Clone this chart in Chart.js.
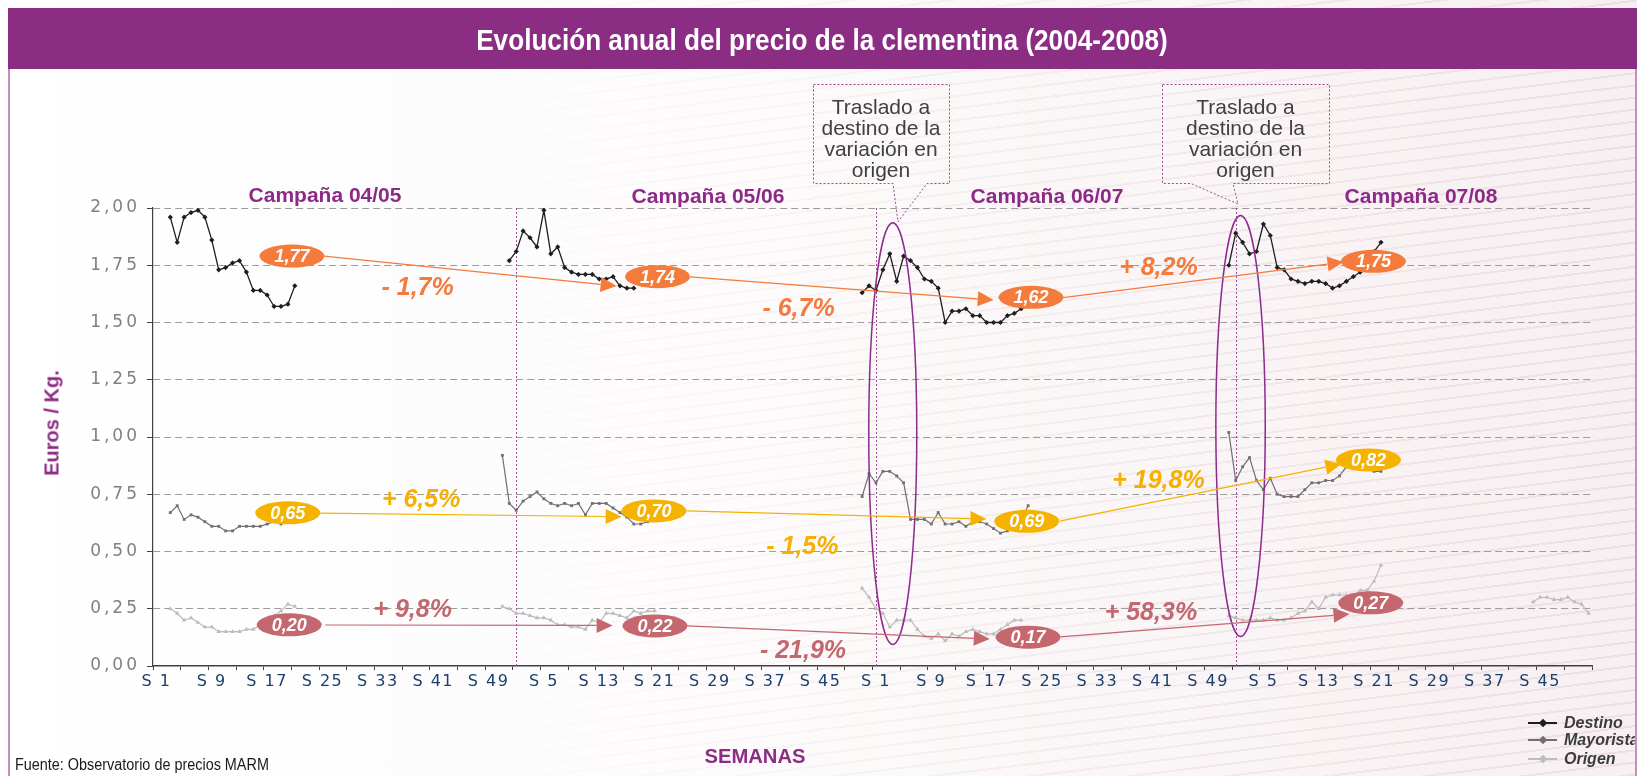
<!DOCTYPE html>
<html lang="es">
<head>
<meta charset="utf-8">
<title>Evolución anual del precio de la clementina (2004-2008)</title>
<script src="https://cdn.jsdelivr.net/npm/chart.js@4.4.1/dist/chart.umd.min.js"></script>
<style>
  html, body { margin: 0; padding: 0; }
  body { width: 1637px; height: 776px; position: relative; overflow: hidden; background: #fff; font-family: "Liberation Sans", Arial, sans-serif; }
  #wash { position: absolute; inset: 0; background: linear-gradient(90deg, #ffffff 0%, #fdfbfb 45%, #f7eff1 100%); }
  #texture { position: absolute; inset: 0;
    background: repeating-linear-gradient(173deg, rgba(0,0,0,0) 0 7px, rgba(196,160,172,0.20) 7px 9px, rgba(0,0,0,0) 9px 12px);
    -webkit-mask-image: linear-gradient(90deg, transparent 25%, rgba(0,0,0,.55) 60%, #000 100%);
    mask-image: linear-gradient(90deg, transparent 25%, rgba(0,0,0,.55) 60%, #000 100%); }
  #titlebar { position: absolute; left: 8px; top: 8px; width: 1629px; height: 61px; background: #8c2d84; }
  .frame { position: absolute; top: 69px; width: 2px; height: 707px; background: #c48fbf; z-index: 5; }
  canvas { position: absolute; left: 0; top: 0; }
  .txt { position: absolute; white-space: nowrap; line-height: 1; }
  .center { transform: translate(-50%, -50%) scaleX(var(--sx, 1)); transform-origin: center; }
  .leftfit { transform: translateY(-50%) scaleX(var(--sx, 1)); transform-origin: left center; }
  #title { left: 822px; top: 40px; color: #fff; font: bold 30px "Liberation Sans Narrow", "Arial Narrow", "Liberation Sans", Arial, sans-serif; }
  #source { left: 15px; top: 765px; color: #1a1a1a; font: 16px "Liberation Sans Narrow", "Arial Narrow", "Liberation Sans", Arial, sans-serif; }
  #xtitle { left: 755px; top: 756px; color: #8c2d84; font: bold 21px "Liberation Sans Narrow", "Arial Narrow", "Liberation Sans", Arial, sans-serif; }
  #ytitle { left: 52px; top: 423px; color: #8c2d84; font: bold 20px "Liberation Sans", Arial, sans-serif; transform: translate(-50%, -50%) rotate(-90deg); }
  .campaign { color: #8c2a88; font: bold 21px "Liberation Sans", Arial, sans-serif; transform: translate(-50%, -50%); }
  .callout { position: absolute; top: 96px; text-align: center; color: #404040; font: 21px "Liberation Sans", Arial, sans-serif; line-height: 21px; }
  .legend { position: absolute; left: 1528px; height: 18px; z-index: 4; }
  .legend .ln { position: absolute; left: 0; top: 8px; width: 29px; height: 1.5px; }
  .legend .mk { position: absolute; left: 12px; top: 5.5px; width: 6px; height: 6px; transform: rotate(45deg); }
  .legend .lb { position: absolute; left: 36px; top: 0; white-space: nowrap; color: #3c3c3c; font: italic bold 16px "Liberation Sans", Arial, sans-serif; line-height: 18px; }
</style>
</head>
<body>
<div id="wash"></div>
<div id="texture"></div>
<div id="titlebar"></div>
<div class="frame" style="left:8px"></div>
<div class="frame" style="left:1635px"></div>
<canvas id="chart" width="1637" height="776" style="width:1637px;height:776px"></canvas>

<div id="title" class="txt center">Evolución anual del precio de la clementina (2004-2008)</div>
<div id="source" class="txt leftfit">Fuente: Observatorio de precios MARM</div>
<div id="xtitle" class="txt center">SEMANAS</div>
<div id="ytitle" class="txt">Euros / Kg.</div>

<div class="txt campaign" style="left:325px;top:195px">Campaña 04/05</div>
<div class="txt campaign" style="left:708px;top:196px">Campaña 05/06</div>
<div class="txt campaign" style="left:1047px;top:196px">Campaña 06/07</div>
<div class="txt campaign" style="left:1421px;top:196px">Campaña 07/08</div>

<div class="callout" style="left:813px;width:136px">Traslado a<br>destino de la<br>variación en<br>origen</div>
<div class="callout" style="left:1162px;width:167px">Traslado a<br>destino de la<br>variación en<br>origen</div>

<div id="legend"></div>

<script>
// weeks on the axis: four years of 52 weeks, first category = S 1 of 2005
const weekLabels = []
for (let year = 0; year < 4; year++) {
  for (let w = 1; w <= 52; w++) weekLabels.push('S ' + w)
}

// Destino (€/kg), each campaign starts at the given week index
const destino0405 = [1.96, 1.85, 1.96, 1.98, 1.99, 1.96, 1.86, 1.73, 1.74, 1.76, 1.77, 1.72, 1.64, 1.64, 1.62, 1.57, 1.57, 1.58, 1.66]
const destino0506 = [1.77, 1.81, 1.90, 1.87, 1.83, 1.99, 1.80, 1.83, 1.74, 1.72, 1.71, 1.71, 1.71, 1.69, 1.69, 1.70, 1.66, 1.65, 1.65]
const destino0607 = [1.63, 1.66, 1.64, 1.73, 1.80, 1.68, 1.79, 1.77, 1.74, 1.69, 1.68, 1.65, 1.50, 1.55, 1.55, 1.56, 1.53, 1.53, 1.50, 1.50, 1.50, 1.53, 1.54, 1.56]
const destino0708 = [1.75, 1.89, 1.85, 1.80, 1.81, 1.93, 1.88, 1.74, 1.73, 1.69, 1.68, 1.67, 1.68, 1.68, 1.67, 1.65, 1.66, 1.68, 1.70, 1.72, 1.76, 1.81, 1.85]
const destinoStarts = [2, 51, 102, 155]

// Mayorista
const mayorista0405 = [0.67, 0.70, 0.64, 0.66, 0.65, 0.63, 0.61, 0.61, 0.59, 0.59, 0.61, 0.61, 0.61, 0.61, 0.62, 0.63, 0.62, 0.66, 0.71]
const mayorista0506 = [0.92, 0.71, 0.68, 0.72, 0.74, 0.76, 0.73, 0.71, 0.70, 0.71, 0.70, 0.71, 0.66, 0.71, 0.71, 0.71, 0.69, 0.67, 0.65, 0.62, 0.62, 0.63]
const mayorista0607 = [0.74, 0.84, 0.80, 0.85, 0.85, 0.83, 0.80, 0.64, 0.64, 0.64, 0.62, 0.67, 0.62, 0.62, 0.63, 0.61, 0.63, 0.63, 0.62, 0.60, 0.58, 0.59, 0.61, 0.64, 0.70]
const mayorista0708 = [1.02, 0.81, 0.87, 0.91, 0.81, 0.77, 0.82, 0.75, 0.74, 0.74, 0.74, 0.77, 0.80, 0.80, 0.81, 0.81, 0.83, 0.87, 0.88, 0.87, 0.86, 0.85, 0.85]
const mayoristaStarts = [2, 50, 102, 155]

// Origen
const origen0405 = [0.25, 0.23, 0.20, 0.21, 0.19, 0.17, 0.17, 0.15, 0.15, 0.15, 0.15, 0.16, 0.16, 0.18, 0.20, 0.22, 0.24, 0.27, 0.26]
const origen0506 = [0.26, 0.25, 0.23, 0.23, 0.22, 0.21, 0.21, 0.20, 0.18, 0.18, 0.17, 0.17, 0.16, 0.20, 0.19, 0.23, 0.23, 0.22, 0.21, 0.24, 0.23, 0.24, 0.24]
const origen0607 = [0.34, 0.30, 0.25, 0.23, 0.17, 0.20, 0.20, 0.20, 0.16, 0.13, 0.12, 0.14, 0.11, 0.14, 0.13, 0.15, 0.16, 0.15, 0.14, 0.14, 0.16, 0.18, 0.20, 0.20]
const origen0708 = [0.22, 0.21, 0.20, 0.20, 0.20, 0.20, 0.21, 0.20, 0.20, 0.21, 0.23, 0.24, 0.28, 0.25, 0.30, 0.31, 0.31, 0.31, 0.30, 0.33, 0.33, 0.37, 0.44]
const origen0809 = [0.28, 0.30, 0.30, 0.29, 0.29, 0.30, 0.28, 0.27, 0.23]
const origenStarts = [2, 50, 102, 155, 199]

const yTicks = [0, 0.25, 0.5, 0.75, 1, 1.25, 1.5, 1.75, 2]

// campaign averages shown in the bubbles and the change between campaigns
const destinoAvg = ['1,77', '1,74', '1,62', '1,75']
const mayoristaAvg = ['0,65', '0,70', '0,69', '0,82']
const origenAvg = ['0,20', '0,22', '0,17', '0,27']
const destinoChange = ['- 1,7%', '- 6,7%', '+ 8,2%']
const mayoristaChange = ['+ 6,5%', '- 1,5%', '+ 19,8%']
const origenChange = ['+ 9,8%', '- 21,9%', '+ 58,3%']

// S 1 of 2006, 2007 and 2008
const yearStarts = [52, 104, 156]

// --- annotation layout, in axis units (week index, €/kg) ---
const destinoTagAt = [[19.58, 1.79], [72.42, 1.70], [126.41, 1.61], [175.91, 1.767]]
const mayoristaTagAt = [[18.97, 0.669], [71.91, 0.677], [125.79, 0.632], [175.19, 0.90]]
const origenTagAt = [[19.19, 0.18], [72.06, 0.175], [125.98, 0.126], [175.52, 0.276]]
const destinoArrowAt = [[24.24, 1.790, 66.51, 1.659], [77.11, 1.699, 121.02, 1.598], [131.03, 1.609, 171.58, 1.764]]
const mayoristaArrowAt = [[23.67, 0.668, 67.25, 0.652], [76.63, 0.677, 119.97, 0.642], [130.56, 0.633, 171.29, 0.882]]
const origenArrowAt = [[24.41, 0.179, 65.94, 0.177], [76.72, 0.175, 120.45, 0.118], [130.66, 0.127, 172.45, 0.227]]
const destinoChangeAt = [[37.75, 1.649], [92.81, 1.56], [144.83, 1.738]]
const mayoristaChangeAt = [[38.26, 0.726], [93.36, 0.521], [144.83, 0.808]]
const origenChangeAt = [[37.03, 0.245], [93.45, 0.066], [143.74, 0.231]]
const ringAt = [[106.43, 1.015, 3.47, 0.921], [156.7, 1.048, 3.57, 0.919]]

const purple = '#8c2d84'
const orange = '#f47b3c'
const amber = '#f5b300'
const rose = '#c4676f'
const colDestino = '#1e1e1e'
const colMayorista = '#707070'
const colOrigen = '#bcbcbc'

function weekly(starts, parts) {
  const out = weekLabels.map(() => null)
  parts.forEach((values, k) => values.forEach((v, i) => { out[starts[k] + i] = v }))
  return out
}

const notesPlugin = {
  id: 'notes',
  beforeDraw(chart) {
    // x tick labels are spaced out a little in the original
    chart.ctx.letterSpacing = '1.5px'
  },
  beforeDatasetsDraw(chart) {
    const { ctx, chartArea, scales: { x, y } } = chart
    ctx.letterSpacing = '0px'
    ctx.save()
    ctx.strokeStyle = '#a04d9c'
    ctx.lineWidth = 1
    ctx.setLineDash([2, 2])
    for (const c of yearStarts) {
      const px = Math.round(x.getPixelForValue(c)) + 0.5
      ctx.beginPath()
      ctx.moveTo(px, y.getPixelForValue(2))
      ctx.lineTo(px, chartArea.bottom)
      ctx.stroke()
    }
    ctx.restore()
  },
  afterDatasetsDraw(chart) {
    const { ctx, scales: { x, y } } = chart
    const perWeek = x.width / weekLabels.length
    const perUnit = (y.getPixelForValue(0) - y.getPixelForValue(1))
    ctx.save()

    // purple rings
    ctx.strokeStyle = '#8e2a8e'
    ctx.lineWidth = 1.5
    for (const [c, v, rw, rv] of ringAt) {
      ctx.beginPath()
      ctx.ellipse(x.getPixelForValue(c), y.getPixelForValue(v), rw * perWeek, rv * perUnit, 0, 0, Math.PI * 2)
      ctx.stroke()
    }

    // arrows between campaign averages
    const arrow = (a, color) => {
      const x1 = x.getPixelForValue(a[0]), y1 = y.getPixelForValue(a[1])
      const x2 = x.getPixelForValue(a[2]), y2 = y.getPixelForValue(a[3])
      const ang = Math.atan2(y2 - y1, x2 - x1)
      const len = 16, half = 7.5
      const bx = x2 - len * Math.cos(ang), by = y2 - len * Math.sin(ang)
      ctx.strokeStyle = color
      ctx.lineWidth = 1.2
      ctx.beginPath(); ctx.moveTo(x1, y1); ctx.lineTo(bx, by); ctx.stroke()
      ctx.fillStyle = color
      ctx.beginPath()
      ctx.moveTo(x2, y2)
      ctx.lineTo(bx + half * Math.sin(ang), by - half * Math.cos(ang))
      ctx.lineTo(bx - half * Math.sin(ang), by + half * Math.cos(ang))
      ctx.closePath()
      ctx.fill()
    }
    destinoArrowAt.forEach(a => arrow(a, orange))
    mayoristaArrowAt.forEach(a => arrow(a, amber))
    origenArrowAt.forEach(a => arrow(a, rose))

    // bubbles with the average
    const bubble = (at, text, color) => {
      const cx = x.getPixelForValue(at[0]), cy = y.getPixelForValue(at[1])
      ctx.fillStyle = color
      ctx.beginPath()
      ctx.ellipse(cx, cy, 32.5, 11.5, 0, 0, Math.PI * 2)
      ctx.fill()
      ctx.fillStyle = '#ffffff'
      ctx.font = 'italic bold 18px "Liberation Sans", Arial, sans-serif'
      ctx.textAlign = 'center'
      ctx.textBaseline = 'middle'
      ctx.fillText(text, cx, cy + 1)
    }
    destinoTagAt.forEach((at, i) => bubble(at, destinoAvg[i], orange))
    mayoristaTagAt.forEach((at, i) => bubble(at, mayoristaAvg[i], amber))
    origenTagAt.forEach((at, i) => bubble(at, origenAvg[i], rose))

    // change labels
    const change = (at, text, color) => {
      ctx.fillStyle = color
      ctx.font = 'italic bold 25px "Liberation Sans", Arial, sans-serif'
      ctx.textAlign = 'center'
      ctx.textBaseline = 'middle'
      ctx.fillText(text, x.getPixelForValue(at[0]), y.getPixelForValue(at[1]))
    }
    destinoChangeAt.forEach((at, i) => change(at, destinoChange[i], orange))
    mayoristaChangeAt.forEach((at, i) => change(at, mayoristaChange[i], '#f5b000'))
    origenChangeAt.forEach((at, i) => change(at, origenChange[i], rose))

    // callout boxes (above the plot)
    ctx.strokeStyle = '#9c4a98'
    ctx.lineWidth = 1
    ctx.setLineDash([2, 2])
    const callout = (l, t, r, b, baseL, baseR, tipX, tipY) => {
      ctx.beginPath()
      ctx.moveTo(l + 0.5, t + 0.5)
      ctx.lineTo(r + 0.5, t + 0.5)
      ctx.lineTo(r + 0.5, b + 0.5)
      ctx.lineTo(baseR, b + 0.5)
      ctx.lineTo(tipX, tipY)
      ctx.lineTo(baseL, b + 0.5)
      ctx.lineTo(l + 0.5, b + 0.5)
      ctx.closePath()
      ctx.stroke()
    }
    callout(813, 84, 949, 183, 893, 927, 898, 222)
    callout(1162, 84, 1329, 183, 1191, 1233, 1238, 204)
    ctx.restore()

    // y tick labels are drawn after this (ticks.z = 1), wider spacing
    ctx.letterSpacing = '3px'
  },
  afterDraw(chart) {
    chart.ctx.letterSpacing = '0px'
  }
}

const ctx = document.getElementById('chart')
new Chart(ctx, {
  type: 'line',
  data: {
    labels: weekLabels,
    datasets: [
      {
        label: 'Destino',
        data: weekly(destinoStarts, [destino0405, destino0506, destino0607, destino0708]),
        borderColor: colDestino, backgroundColor: colDestino,
        borderWidth: 1.3, pointStyle: 'rectRot', pointRadius: 2.6, pointBorderWidth: 0,
      },
      {
        label: 'Mayorista',
        data: weekly(mayoristaStarts, [mayorista0405, mayorista0506, mayorista0607, mayorista0708]),
        borderColor: colMayorista, backgroundColor: colMayorista,
        borderWidth: 1.2, pointStyle: 'rect', pointRadius: 2, pointBorderWidth: 0,
      },
      {
        label: 'Origen',
        data: weekly(origenStarts, [origen0405, origen0506, origen0607, origen0708, origen0809]),
        borderColor: colOrigen, backgroundColor: colOrigen,
        borderWidth: 1.2, pointStyle: 'triangle', pointRadius: 2.6, pointBorderWidth: 0,
      },
    ],
  },
  options: {
    responsive: false,
    animation: false,
    devicePixelRatio: 1,
    spanGaps: false,
    layout: { padding: { left: 83, right: 45, top: 208, bottom: 70 } },
    plugins: { legend: { display: false }, tooltip: { enabled: false } },
    elements: { line: { tension: 0 } },
    scales: {
      x: {
        type: 'category',
        offset: true,
        afterFit: (scale) => { scale.height = 40 },
        grid: {
          offset: true,
          drawOnChartArea: false,
          drawTicks: true,
          tickLength: 4,
          lineWidth: 1,
          color: (c) => (c.index === undefined || c.index % 4 === 0) ? '#404040' : 'rgba(0,0,0,0)',
        },
        border: { display: true, color: '#404040', width: 1.5 },
        ticks: {
          autoSkip: false, maxRotation: 0, minRotation: 0, padding: 2,
          color: '#1c3f6e',
          font: { family: '"DejaVu Sans", Verdana, sans-serif', size: 16 },
          callback: (v, i) => i % 8 === 0 ? weekLabels[i] : '',
        },
      },
      y: {
        min: 0, max: 2,
        afterFit: (scale) => { scale.width = 70 },
        afterBuildTicks: (scale) => { scale.ticks = yTicks.map(v => ({ value: v })) },
        grid: {
          color: (c) => c.tick && c.tick.value === 0 ? 'rgba(0,0,0,0)' : '#9c9c9c',
          tickColor: '#404040',
          tickLength: 6,
          lineWidth: 1,
        },
        border: { display: true, color: '#404040', width: 1.2, dash: [7, 4] },
        ticks: {
          z: 1,
          padding: 7,
          color: '#808080',
          font: { family: '"DejaVu Sans", Verdana, sans-serif', size: 17 },
          callback: (v) => v.toFixed(2).replace('.', ','),
        },
      },
    },
  },
  plugins: [notesPlugin],
})

// legend
const legendRows = [['Destino', colDestino, 714], ['Mayorista', colMayorista, 731], ['Origen', colOrigen, 750]]
const legend = document.getElementById('legend')
for (const [name, color, top] of legendRows) {
  const row = document.createElement('div')
  row.className = 'legend'
  row.style.top = top + 'px'
  row.innerHTML = `<div class="ln" style="background:${color}"></div><div class="mk" style="background:${color}"></div><div class="lb">${name}</div>`
  legend.appendChild(row)
}

// squeeze the narrow texts to the widths of the original
function fitWidth(id, target) {
  const el = document.getElementById(id)
  const w = el.offsetWidth
  if (w > 0) el.style.setProperty('--sx', (target / w).toFixed(4))
}
fitWidth('title', 692)
fitWidth('source', 254)
fitWidth('xtitle', 101)
</script>
</body>
</html>
